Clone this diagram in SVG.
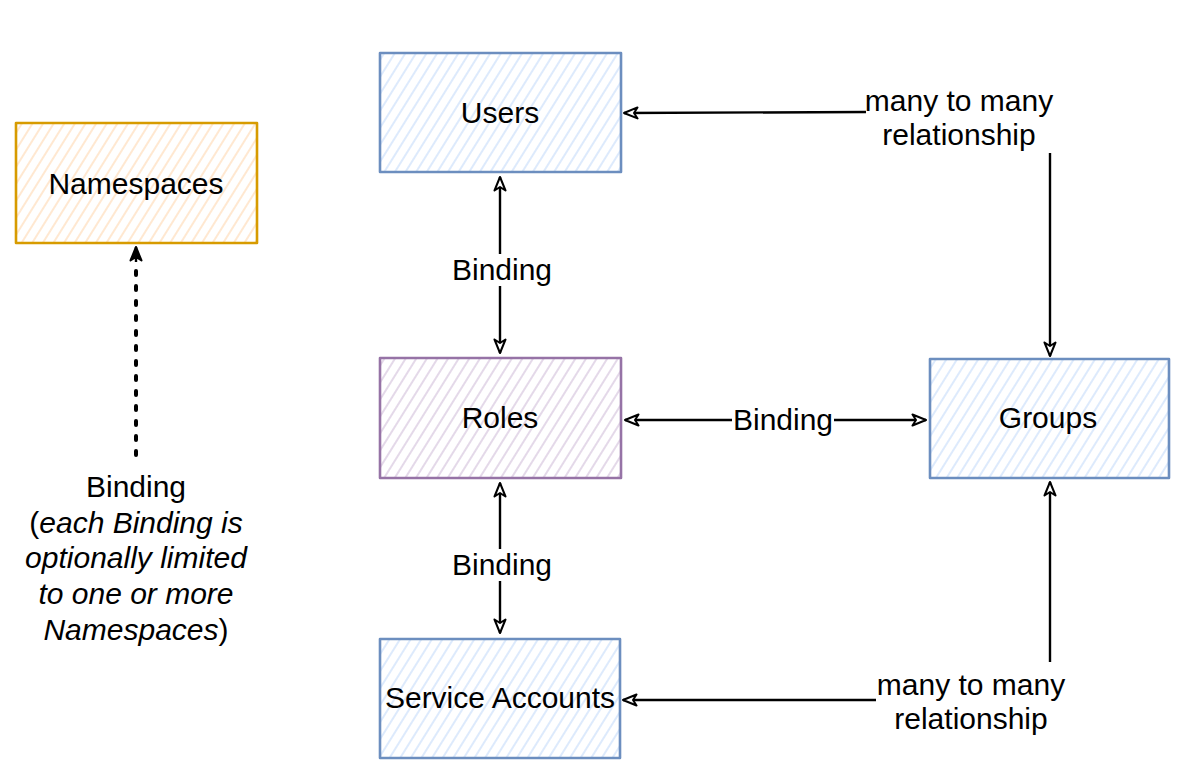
<svg xmlns="http://www.w3.org/2000/svg" width="1184" height="782" viewBox="0 0 1184 782">
<style>
text{font-family:"Liberation Sans",Arial,sans-serif;font-size:30px;fill:#000;text-anchor:middle}
.it{font-style:italic}
.box{stroke-width:2.6;stroke-linejoin:round}
.blue{stroke:#6c8ebf;fill:url(#hBlue)}
.purple{stroke:#9673a6;fill:url(#hPurple)}
.orange{stroke:#d79b00;fill:url(#hOrange)}
.edge{fill:none;stroke:#000;stroke-width:2.4}
.dot{fill:none;stroke:#000;stroke-width:4;stroke-dasharray:4 11;stroke-linecap:round}
</style>
<defs>
<pattern id="hBlue" patternUnits="userSpaceOnUse" width="9" height="9" patternTransform="rotate(32)"><rect width="9" height="9" fill="#fff"/><line x1="3" y1="0" x2="3" y2="9" stroke="#dae8fc" stroke-width="1.8"/></pattern>
<pattern id="hPurple" patternUnits="userSpaceOnUse" width="9" height="9" patternTransform="rotate(32)"><rect width="9" height="9" fill="#fff"/><line x1="3" y1="0" x2="3" y2="9" stroke="#e1d5e7" stroke-width="1.8"/></pattern>
<pattern id="hOrange" patternUnits="userSpaceOnUse" width="9" height="9" patternTransform="rotate(32)"><rect width="9" height="9" fill="#fff"/><line x1="3" y1="0" x2="3" y2="9" stroke="#ffe6cc" stroke-width="1.8"/></pattern>
<marker id="open" viewBox="0 0 16 14" refX="15" refY="7" markerWidth="16" markerHeight="14" markerUnits="userSpaceOnUse" orient="auto-start-reverse">
<path d="M1.5,1.5 L15,7 L1.5,12.5 L5,7 Z" fill="#fff" stroke="#000" stroke-width="2" stroke-linejoin="round"/>
</marker>
<marker id="filled" viewBox="0 0 16 14" refX="15" refY="7" markerWidth="16" markerHeight="14" markerUnits="userSpaceOnUse" orient="auto">
<path d="M1.5,1.5 L15,7 L1.5,12.5 L5,7 Z" fill="#000" stroke="#000" stroke-width="2" stroke-linejoin="round"/>
</marker>
</defs>

<g id="connectors">
<line class="edge" x1="500" y1="353" x2="500" y2="177" marker-start="url(#open)" marker-end="url(#open)"/>
<line class="edge" x1="500" y1="633" x2="500" y2="483" marker-start="url(#open)" marker-end="url(#open)"/>
<line class="edge" x1="625" y1="420" x2="926" y2="420" marker-start="url(#open)" marker-end="url(#open)"/>
<line class="edge" x1="866" y1="112" x2="624" y2="113" marker-end="url(#open)"/>
<line class="edge" x1="1050" y1="153" x2="1050" y2="356" marker-end="url(#open)"/>
<line class="edge" x1="1050" y1="662" x2="1050" y2="482" marker-end="url(#open)"/>
<line class="edge" x1="876" y1="700" x2="623" y2="700" marker-end="url(#open)"/>
<line class="dot" x1="136" y1="455" x2="136" y2="262"/>
<line class="edge" x1="136" y1="262" x2="136" y2="247" marker-end="url(#filled)" stroke-width="3"/>
<rect x="449" y="254" width="106" height="32" fill="#fff"/>
<text x="502" y="280">Binding</text>
<rect x="449" y="549" width="106" height="32" fill="#fff"/>
<text x="502" y="575">Binding</text>
<rect x="732" y="404" width="102" height="32" fill="#fff"/>
<text x="783" y="430">Binding</text>
<text x="959" y="111">many to many</text>
<text x="959" y="145">relationship</text>
<text x="971" y="695">many to many</text>
<text x="971" y="729">relationship</text>
<text x="136" y="497">Binding</text>
<text x="136" y="533">(<tspan class="it">each Binding is</tspan></text>
<text x="136" y="568" class="it">optionally limited</text>
<text x="136" y="604" class="it">to one or more</text>
<text x="136" y="640"><tspan class="it">Namespaces</tspan>)</text>
</g>

<g id="namespaces">
<rect class="box orange" x="16" y="123" width="241" height="120"/>
<text x="136" y="194">Namespaces</text>
</g>
<g id="users">
<rect class="box blue" x="380" y="53" width="241" height="119"/>
<text x="500" y="123">Users</text>
</g>
<g id="roles">
<rect class="box purple" x="380" y="358" width="241" height="120"/>
<text x="500" y="428">Roles</text>
</g>
<g id="groups">
<rect class="box blue" x="930" y="359" width="239" height="119"/>
<text x="1048" y="428">Groups</text>
</g>
<g id="service-accounts">
<rect class="box blue" x="380" y="639" width="240" height="119"/>
<text x="500" y="708">Service Accounts</text>
</g>
</svg>
